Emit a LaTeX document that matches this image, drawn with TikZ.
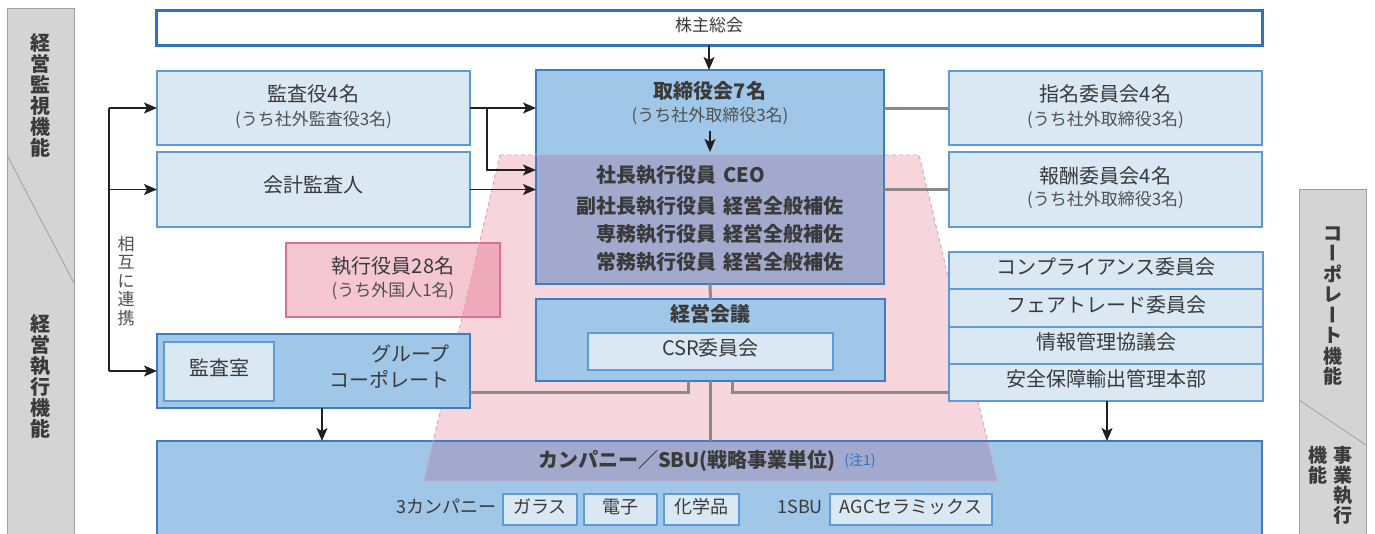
\documentclass[tikz,border=0pt]{standalone}
\usepackage{fontspec}
\usepackage{graphicx}
\setmainfont{Noto Sans CJK JP}
\usetikzlibrary{arrows.meta}
\definecolor{lb}{HTML}{DAE8F4}
\definecolor{lbd}{HTML}{5E9BD6}
\definecolor{mb}{HTML}{A0C6E8}
\definecolor{mbd}{HTML}{3C7DC4}
\definecolor{pur}{HTML}{A3A9CC}
\definecolor{pk}{HTML}{F6D5DC}
\definecolor{pkd}{HTML}{E29FB2}
\definecolor{exf}{HTML}{F4C7D3}
\definecolor{exd}{HTML}{DD6F8F}
\definecolor{exo}{HTML}{EEAABB}
\definecolor{sg}{HTML}{D4D4D4}
\definecolor{sgd}{HTML}{A0A0A0}
\definecolor{ln}{HTML}{8A8A8A}
\definecolor{tx}{HTML}{3A3A3A}
\definecolor{txs}{HTML}{505050}
\definecolor{ar}{HTML}{231F20}
\definecolor{topb}{HTML}{2E73BD}
\newcommand\vbar{\rotatebox[origin=c]{-90}{\raisebox{0pt}[0.8em][0pt]{ー}}}
\newcommand\mkbox[6]{\node[#1, minimum width={(#5)-(#3)}, minimum height={(#6)-(#4)}, anchor=north west] (#2) at (#3,#4) {};}
\tikzset{
  lbox/.style={draw=lbd, fill=lb, line width=1.2pt, inner sep=0pt, outer sep=0pt},
  mbox/.style={draw=mbd, fill=mb, line width=1.2pt, inner sep=0pt, outer sep=0pt},
  exbox/.style={draw=exd, fill=exf, line width=1.2pt, inner sep=0pt, outer sep=0pt},
  topbox/.style={draw=topb, fill=white, line width=3pt, inner sep=0pt, outer sep=0pt},
  txt/.style={text=tx, inner sep=0pt, font=\fontsize{20pt}{24pt}\selectfont, text height=0.88em, text depth=0.12em},
  btxt/.style={txt, font=\fontsize{20pt}{24pt}\selectfont\bfseries},
  stxt/.style={text=txs, inner sep=0pt, font=\fontsize{17pt}{20pt}\selectfont, text height=0.88em, text depth=0.12em},
  rtxt/.style={text=tx, inner sep=0pt, font=\fontsize{18pt}{22pt}\selectfont, text height=0.88em, text depth=0.12em},
  vtxt/.style={text=tx, inner sep=0pt, align=center, font=\fontsize{20pt}{21pt}\selectfont\bfseries},
  rvtxt/.style={text=tx, inner sep=0pt, align=center, font=\fontsize{19pt}{20pt}\selectfont\bfseries},
  arr/.style={draw=ar, line width=1.4pt, -{Stealth[length=13pt,width=11pt,inset=3pt]}},
  plainline/.style={draw=ar, line width=1.4pt},
  gline/.style={draw=ln, line width=3pt},
  side/.style={fill=sg, draw=sgd, line width=1pt},
  trapedge/.style={draw=pkd, line width=0.9pt, dash pattern=on 4pt off 3pt},
}
\begin{document}
\begin{tikzpicture}[x=1pt,y=-1pt]
\useasboundingbox (0,0) rectangle (1375,533);
% side bars
\fill[side] (7,8) rectangle (74,545);
\draw[draw=sgd, line width=0.8pt] (7,155) -- (74,283);
\fill[side] (1299,189) rectangle (1366,545);
\draw[draw=sgd, line width=0.8pt] (1299,400) -- (1366,445);
\node[vtxt] (sideA) at (40.5,95) {経\\営\\監\\視\\機\\能};
\node[vtxt] (sideB) at (40.5,376) {経\\営\\執\\行\\機\\能};
\node[rvtxt, font=\fontsize{19pt}{20.5pt}\selectfont\bfseries] (sideC) at (1333,306) {コ\\\vbar\\ポ\\レ\\\vbar\\ト\\機\\能};
\node[rvtxt, anchor=north] (sideD) at (1343,446) {事\\業\\執\\行};
\node[rvtxt, anchor=north] (sideE) at (1318,446) {機\\能};
% trapezoid
\coordinate (T1) at (500,155);
\coordinate (T2) at (919,155);
\coordinate (T3) at (997,481);
\coordinate (T4) at (424,481);
\fill[pk] (T1) -- (T2) -- (T3) -- (T4) -- cycle;
% boxes under the trapezoid tint
\mkbox{mbox}{tori}{536}{70}{884}{284}
\mkbox{exbox}{exec}{286}{243}{500}{317}
\mkbox{mbox}{comp}{157}{441}{1262}{545}
\begin{scope}
  \clip (T1) -- (T2) -- (T3) -- (T4) -- cycle;
  \fill[pur] (tori.north west) rectangle (tori.south east);
  \fill[pur] (comp.north west) rectangle (comp.south east);
  \fill[exo] (exec.north west) rectangle (exec.south east);
\end{scope}
\draw[draw=mbd, line width=1.2pt] (tori.north west) rectangle (tori.south east);
\draw[draw=mbd, line width=1.2pt] (comp.north west) rectangle (comp.south east);
\draw[draw=exd, line width=1.2pt] (exec.north west) rectangle (exec.south east);
\draw[trapedge] (T1) -- (T2) -- (T3) -- (T4) -- cycle;
% other boxes
\mkbox{topbox}{kabu}{156}{10}{1262}{45}
\mkbox{lbox}{kansa}{157}{71}{470}{145}
\mkbox{lbox}{kaikei}{157}{152}{470}{227}
\mkbox{lbox}{shimei}{949}{71}{1262}{145}
\mkbox{lbox}{houshu}{949}{152}{1262}{227}
\mkbox{mbox}{keiei}{536}{299}{885}{381}
\mkbox{lbox}{csr}{588}{333}{833}{370}
\mkbox{mbox}{group}{157}{334}{470}{408}
\mkbox{lbox}{kansashitsu}{164}{342}{274}{401}
\mkbox{lbox}{comp1}{949}{252}{1263}{289}
\mkbox{lbox}{comp2}{949}{289}{1263}{327}
\mkbox{lbox}{comp3}{949}{327}{1263}{364}
\mkbox{lbox}{anzen}{949}{364}{1263}{401}
\mkbox{lbox}{glass}{503}{494}{577}{525}
\mkbox{lbox}{denshi}{584}{494}{657}{525}
\mkbox{lbox}{kagaku}{664}{494}{739}{525}
\mkbox{lbox}{agc}{830}{494}{992}{525}
% gray connectors
\draw[gline] (tori.east |- shimei.west) -- (shimei.west);
\draw[gline] (tori.east |- houshu.west) -- (houshu.west);
\draw[gline] (tori.south) -- (keiei.north);
\draw[gline] (keiei.south) -- (keiei.south |- comp.north);
\coordinate (kl) at (688,381);
\coordinate (kr) at (732,381);
\draw[gline] (kl) |- (group.east |- 0,392);
\draw[gline] (kr) |- (anzen.west |- 0,392);
% arrows
\draw[arr] (kabu.south) -- (kabu.south |- tori.north);
\coordinate (ta) at (710,131);
\coordinate (tb) at (710,152);
\draw[arr] (ta) -- (tb);
\draw[arr] (kansa.east) -- (kansa.east -| tori.west);
\coordinate (br) at (487,108);
\coordinate (bc) at (536,170);
\draw[arr] (br) |- (bc);
\draw[arr] (kaikei.east) -- (kaikei.east -| tori.west);
\coordinate (L1) at (109,108);
\coordinate (L3) at (109,371);
\draw[plainline] (L1) -- (L3);
\draw[arr] (L1) -- (kansa.west);
\draw[arr] (kaikei.west -| L1) -- (kaikei.west);
\draw[arr] (L3) -- (group.west);
\coordinate (ga) at (322,408);
\draw[arr] (ga) -- (ga |- comp.north);
\coordinate (ra) at (1107,401);
\draw[arr] (ra) -- (ra |- comp.north);
% texts
\node[stxt, text=tx] (tkabu) at (709,27.5) {株主総会};
\node[txt] (tkansa) at (313.5,98) {監査役4名};
\node[stxt] (tkansa2) at (313.5,122) {(うち社外監査役3名)};
\node[txt] (tkaikei) at (313.5,189) {会計監査人};
\node[btxt] (ttori) at (710,95) {取締役会7名};
\node[stxt] (ttori2) at (710,118) {(うち社外取締役3名)};
\node[txt] (tshimei) at (1105.5,98) {指名委員会4名};
\node[stxt] (tshimei2) at (1105.5,122) {(うち社外取締役3名)};
\node[txt] (thoushu) at (1105.5,180) {報酬委員会4名};
\node[stxt] (thoushu2) at (1105.5,202) {(うち社外取締役3名)};
\node[btxt, anchor=base east] (r1a) at (717,182.5) {社長執行役員};
\node[btxt, anchor=base west] (r1b) at (723,182.5) {CEO};
\node[btxt, anchor=base east] (r2a) at (717,213) {副社長執行役員};
\node[btxt, anchor=base west] (r2b) at (723,213) {経営全般補佐};
\node[btxt, anchor=base east] (r3a) at (717,241) {専務執行役員};
\node[btxt, anchor=base west] (r3b) at (723,241) {経営全般補佐};
\node[btxt, anchor=base east] (r4a) at (717,269.5) {常務執行役員};
\node[btxt, anchor=base west] (r4b) at (723,269.5) {経営全般補佐};
\node[txt] (texec) at (393,270) {執行役員28名};
\node[stxt] (texec2) at (393,293) {(うち外国人1名)};
\node[btxt] (tkeiei) at (710,318) {経営会議};
\node[txt] (tcsr) at (710.5,352) {CSR委員会};
\node[txt] (tkshitsu) at (219,372) {監査室};
\node[txt, anchor=east] (tgroup1) at (450,358) {グループ};
\node[txt, anchor=east] (tgroup2) at (450,384) {コーポレート};
\node[txt] (tc1) at (1106,271) {コンプライアンス委員会};
\node[txt] (tc2) at (1106,308.5) {フェアトレード委員会};
\node[txt] (tc3) at (1106,346) {情報管理協議会};
\node[txt] (tc4) at (1106,383) {安全保障輸出管理本部};
\node[btxt] (tcomp) at (687,464) {カンパニー／SBU(戦略事業単位)};
\node[inner sep=0pt, text=topb, font=\fontsize{14pt}{16pt}\selectfont] (tnote) at (860,461) {(注1)};
\node[rtxt, anchor=east] (t3c) at (497,510) {3カンパニー};
\node[rtxt] (tglass) at (glass) {ガラス};
\node[rtxt] (tdenshi) at (denshi) {電子};
\node[rtxt] (tkagaku) at (kagaku) {化学品};
\node[rtxt, anchor=east] (t1s) at (823,510) {1SBU};
\node[rtxt] (tagc) at (agc) {AGCセラミックス};
\node[inner sep=0pt, align=center, text=txs, font=\fontsize{17pt}{18.5pt}\selectfont] (tsogo) at (126,281) {相\\互\\に\\連\\携};
\end{tikzpicture}
\end{document}
